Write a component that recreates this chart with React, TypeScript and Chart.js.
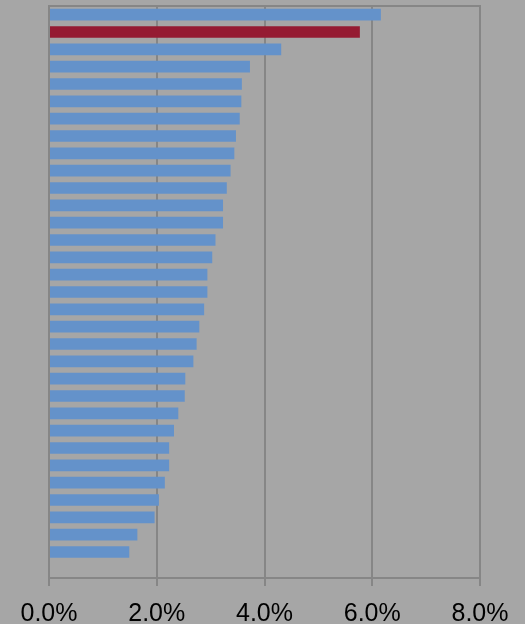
import React, { useEffect, useRef } from "react";
import { Chart, registerables } from "chart.js";

Chart.register(...registerables);

const categories: string[] = Array.from({ length: 33 }, (_, i) => `Item ${i + 1}`);
const values: (number | null)[] = [
  6.16, 5.77, 4.31, 3.73, 3.58, 3.57, 3.54, 3.47, 3.44, 3.37, 3.30,
  3.23, 3.23, 3.09, 3.03, 2.94, 2.94, 2.88, 2.79, 2.74, 2.68, 2.53, 2.52,
  2.40, 2.32, 2.23, 2.23, 2.15, 2.04, 1.96, 1.64, 1.49, null,
];
const highlightIndex = 1;
const xTicks: number[] = [0, 2, 4, 6, 8];

const BG = "#A6A6A6";
const BLUE = "#6492CA";
const RED = "#951B32";
const GRID = "#868686";

export default function App() {
  const ref = useRef<HTMLCanvasElement | null>(null);
  useEffect(() => {
    document.body.style.margin = "0";
    document.body.style.background = BG;
    const canvas = ref.current!;
    const bgPlugin = {
      id: "bgPlugin",
      beforeDraw(chart: any) {
        const { ctx, width, height } = chart;
        ctx.save();
        ctx.fillStyle = BG;
        ctx.fillRect(0, 0, width, height);
        ctx.restore();
      },
      afterDraw(chart: any) {
        const { ctx, chartArea } = chart;
        ctx.save();
        ctx.strokeStyle = GRID;
        ctx.lineWidth = 2;
        ctx.beginPath();
        ctx.moveTo(chartArea.left - 1, chartArea.top);
        ctx.lineTo(chartArea.right + 1, chartArea.top);
        ctx.stroke();
        ctx.restore();
      },
    };
    const chart = new Chart(canvas, {
      type: "bar",
      data: {
        labels: categories,
        datasets: [
          {
            data: values as any,
            backgroundColor: values.map((_, i) => (i === highlightIndex ? RED : BLUE)),
            borderWidth: 0,
            barPercentage: 0.67,
            categoryPercentage: 1,
          },
        ],
      },
      options: {
        indexAxis: "y",
        animation: false,
        responsive: false,
        maintainAspectRatio: false,
        layout: { padding: { left: 49, right: 45, top: 6, bottom: 0 } },
        plugins: { legend: { display: false }, tooltip: { enabled: false } },
        scales: {
          y: {
            display: false,
          },
          x: {
            min: 0,
            max: 8,
            afterBuildTicks(scale: any) {
              scale.ticks = xTicks.map((v) => ({ value: v }));
            },
            afterFit(scale: any) {
              scale.height = 46;
            },
            grid: {
              color: GRID,
              lineWidth: 2,
              tickLength: 8,
              drawTicks: true,
            },
            border: { display: true, color: GRID, width: 2 },
            ticks: {
              color: "#000000",
              padding: 13,
              maxRotation: 0,
              font: { family: "'Liberation Sans', Arial, sans-serif", size: 25 },
              callback: (v: any) => `${Number(v).toFixed(1)}%`,
            },
          },
        },
      },
      plugins: [bgPlugin],
    });
    return () => chart.destroy();
  }, []);
  return (
    <div style={{ position: "absolute", left: 0, top: 0, width: 525, height: 624, background: BG }}>
      <canvas ref={ref} width={525} height={624} style={{ display: "block" }} />
    </div>
  );
}
